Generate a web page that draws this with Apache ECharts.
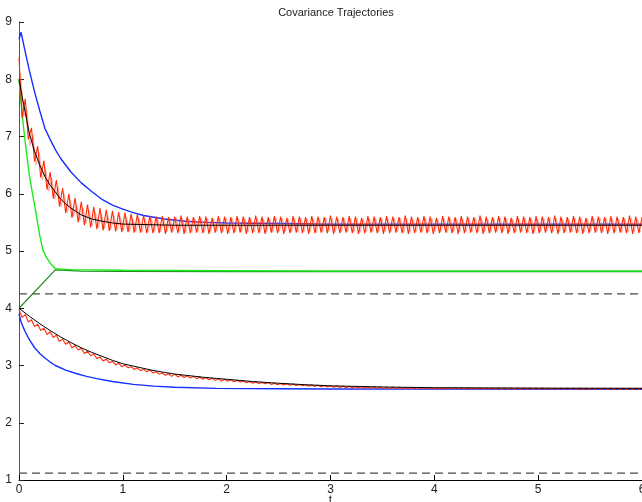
<!DOCTYPE html>
<html>
<head>
<meta charset="utf-8">
<script src="https://cdn.jsdelivr.net/npm/echarts@6/dist/echarts.min.js"></script>
<style>
html,body{margin:0;padding:0;background:#fff;}
#chart{width:642px;height:502px;}
</style>
</head>
<body>
<div id="chart"></div>
<script>
// ---- data ----
const titleText = 'Covariance Trajectories';
const xAxisName = 't';
const xTicks = [0, 1, 2, 3, 4, 5, 6];
const yTicks = [1, 2, 3, 4, 5, 6, 7, 8, 9];
const dashedLevels = [4.25, 1.12];

const blueUpper = [[0,8.7],[0.02,8.82],[0.05,8.56],[0.1,8.15],[0.15,7.78],[0.2,7.45],[0.25,7.14],[0.3,6.95],[0.35,6.77],[0.4,6.62],[0.5,6.38],[0.6,6.19],[0.7,6.04],[0.8,5.9],[0.9,5.8],[1.0,5.73],[1.1,5.67],[1.2,5.62],[1.4,5.56],[1.6,5.52],[1.8,5.5],[2.0,5.49],[2.5,5.48],[3,5.47],[4,5.47],[5,5.47],[6,5.47]];
const blackUpper = [[0,8.0],[0.03,7.7],[0.06,7.42],[0.1,7.05],[0.15,6.74],[0.2,6.5],[0.25,6.3],[0.3,6.15],[0.35,6.03],[0.4,5.91],[0.45,5.82],[0.5,5.75],[0.6,5.63],[0.7,5.56],[0.8,5.52],[0.9,5.49],[1.0,5.47],[1.25,5.46],[1.5,5.45],[2,5.45],[3,5.45],[6,5.45]];
const greenBright = [[0,8.0],[0.02,7.6],[0.04,7.22],[0.06,6.9],[0.08,6.6],[0.1,6.32],[0.13,6.0],[0.16,5.7],[0.2,5.27],[0.23,5.02],[0.26,4.9],[0.3,4.79],[0.35,4.69],[0.5,4.675],[1,4.665],[1.5,4.66],[2,4.655],[3,4.65],[4,4.65],[6,4.65]];
const greenDark = [[0,4.0],[0.35,4.67],[0.6,4.65],[1,4.645],[2,4.64],[6,4.64]];
const blueLower = [[0,3.9],[0.02,3.76],[0.04,3.67],[0.06,3.59],[0.1,3.45],[0.15,3.31],[0.2,3.21],[0.25,3.13],[0.3,3.06],[0.35,3.0],[0.45,2.92],[0.55,2.86],[0.65,2.81],[0.75,2.77],[0.9,2.72],[1.1,2.67],[1.3,2.64],[1.5,2.62],[1.9,2.6],[2.5,2.595],[3,2.59],[4,2.588],[6,2.585]];
const blackLower = [[0,4.0],[0.1,3.86],[0.2,3.73],[0.3,3.61],[0.4,3.5],[0.5,3.4],[0.6,3.31],[0.7,3.23],[0.8,3.16],[0.9,3.09],[1.0,3.03],[1.1,2.99],[1.2,2.95],[1.3,2.91],[1.4,2.88],[1.5,2.85],[1.6,2.83],[1.7,2.81],[1.8,2.79],[1.9,2.775],[2.0,2.76],[2.25,2.72],[2.5,2.69],[2.75,2.665],[3.0,2.645],[3.5,2.625],[4,2.612],[5,2.605],[6,2.602]];

// red traces sampled every sampleStep time units (light trace starts half a step later)
const sampleStep = 0.03;
const redUpper = [
8.38,7.32,7.66,6.95,7.15,6.56,6.83,6.28,6.58,6.07,
6.38,5.92,6.24,5.78,6.10,5.66,6.00,5.58,5.93,5.50,
5.86,5.45,5.81,5.41,5.77,5.38,5.75,5.36,5.72,5.35,
5.70,5.34,5.68,5.33,5.67,5.33,5.65,5.32,5.64,5.32,
5.62,5.31,5.61,5.31,
5.60,5.31,5.61,5.30,5.59,5.32,5.60,5.31,5.62,5.30,
5.60,5.31,5.59,5.32,5.61,5.31,5.60,5.30,5.58,5.32,
5.61,5.31,5.60,5.30,5.59,5.31,5.61,5.32,5.60,5.30,
5.59,5.31,5.62,5.31,5.60,5.30,5.59,5.32,5.61,5.31,
5.60,5.30,5.58,5.31,5.61,5.32,5.60,5.31,5.59,5.30,
5.61,5.31,5.60,5.32,5.59,5.31,5.62,5.30,5.60,5.31,
5.59,5.32,5.61,5.31,5.60,5.30,5.58,5.31,5.61,5.32,
5.60,5.31,5.59,5.30,5.61,5.31,5.60,5.32,5.59,5.31,
5.62,5.30,5.60,5.31,5.59,5.32,5.61,5.31,5.60,5.30,
5.58,5.31,5.61,5.32,5.60,5.31,5.59,5.30,5.61,5.31,
5.60,5.32,5.59,5.31,5.62,5.30,5.60,5.31,5.59,5.32,
5.61,5.31,5.60,5.30,5.58,5.31,5.61,5.32,5.60,5.31,
5.59,5.30,5.61,5.31,5.60,5.32,5.59,5.31,5.62,5.30,
5.60,5.31,5.59,5.32,5.61,5.31,5.60,5.30,5.58,5.31,
5.61,5.32,5.60,5.31,5.59,5.30,5.61,5.31,5.60,5.32,
5.59,5.31,5.62,5.30,5.60,5.31,5.59
];
const redUpperLight = [
8.10,7.35,7.50,6.84,7.03,6.50,6.72,6.24,6.46,6.04,
6.28,5.90,6.13,5.77,6.00,5.67,5.90,5.60,5.82,5.53,
5.76,5.48,5.72,5.44,5.68,5.41,5.65,5.39,5.63,5.37,
5.62,5.36,5.60,5.35,5.59,5.34,5.58,5.34,5.58,5.33,
5.57,5.33,5.58,5.34,5.57,5.33,5.56,5.33,5.57,5.34,
5.58,5.33,5.57,5.32,5.56,5.33,5.57,5.34,5.58,5.33,
5.57,5.33,5.56,5.34,5.57,5.33,5.58,5.32,5.57,5.33,
5.56,5.34,5.57,5.33,5.58,5.33,5.57,5.34,5.56,5.33,
5.57,5.32,5.58,5.33,5.57,5.34,5.56,5.33,5.57,5.33,
5.58,5.34,5.57,5.33,5.56,5.32,5.57,5.33,5.58,5.34,
5.57,5.33,5.56,5.33,5.57,5.34,5.58,5.33,5.57,5.32,
5.56,5.33,5.57,5.34,5.58,5.33,5.57,5.33,5.56,5.34,
5.57,5.33,5.58,5.32,5.57,5.33,5.56,5.34,5.57,5.33,
5.58,5.33,5.57,5.34,5.56,5.33,5.57,5.32,5.58,5.33,
5.57,5.34,5.56,5.33,5.57,5.33,5.58,5.34,5.57,5.33,
5.56,5.32,5.57,5.33,5.58,5.34,5.57,5.33,5.56,5.33,
5.57,5.34,5.58,5.33,5.57,5.32,5.56,5.33,5.57,5.34,
5.58,5.33,5.57,5.33,5.56,5.34,5.57,5.33,5.58,5.32,
5.57,5.33,5.56,5.34,5.57,5.33,5.58,5.33,5.57,5.34,
5.56,5.33,5.57,5.32,5.58,5.33,5.57,5.34,5.56,5.33
];
const redLower = [
3.98,3.84,3.89,3.76,3.80,3.68,3.72,3.61,3.65,3.54,
3.59,3.49,3.53,3.42,3.46,3.37,3.41,3.31,3.35,3.27,
3.30,3.21,3.25,3.17,3.20,3.12,3.15,3.08,3.11,3.05,
3.07,3.01,3.04,2.98,3.01,2.96,2.98,2.93,2.96,2.91,
2.94,2.89,2.92,2.87,2.89,2.85,2.87,2.83,2.86,2.81,
2.85,2.80,2.83,2.79,2.82,2.78,2.81,2.77,2.80,2.76,
2.79,2.75,2.78,2.74,2.77,2.73,2.76,2.725,2.75,2.715,
2.74,2.71,2.73,2.70,2.72,2.69,2.71,2.685,2.705,2.68,
2.70,2.67,2.69,2.665,2.685,2.66,2.68,2.655,2.675,2.65,
2.67,2.645,2.665,2.64,2.66,2.635,2.655,2.63,2.65,2.625,
2.645,2.62,2.64,2.615,2.636,2.612,2.633,2.61,2.63,2.607,
2.628,2.605,2.626,2.603,2.624,2.601,2.622,2.60,2.62,2.598,
2.618,2.597,2.617,2.596,2.616,2.595,2.615,2.594,2.614,2.593,
2.613,2.592,2.612,2.591,2.612,2.591,2.611,2.59,2.61,2.59,
2.61,2.589,2.609,2.589,2.609,2.588,2.608,2.588,2.608,2.588,
2.607,2.587,2.607,2.587,2.607,2.587,2.606,2.586,2.606,2.586,
2.606,2.586,2.605,2.586,2.605,2.585,2.605,2.585,2.605,2.585,
2.604,2.585,2.604,2.584,2.604,2.584,2.604,2.584,2.603,2.584,
2.603,2.583,2.603,2.583,2.603,2.583,2.603,2.583,2.602,2.583,
2.602,2.582,2.602,2.582,2.602,2.582,2.602,2.582,2.601,2.582,
2.601
];

// ---- build ----
const sampled = (arr, t0) => arr.map((v, i) => [Number((t0 + i * sampleStep).toFixed(4)), v]);
const xMin = xTicks[0], xMax = xTicks[xTicks.length - 1];
const yMin = yTicks[0], yMax = yTicks[yTicks.length - 1];

function lineSeries(data, color, width, z, extra) {
  return Object.assign({
    type: 'line', data: data, showSymbol: false, symbol: 'none',
    lineStyle: { color: color, width: width }, z: z, silent: true,
    clip: true
  }, extra || {});
}

const series = [];
dashedLevels.forEach(lv => {
  series.push(lineSeries([[xMin, lv], [xMax, lv]], '#4a4a4a', 1.3, 1, { lineStyle: { color: '#4a4a4a', width: 1.3, type: [8, 5] } }));
});
series.push(lineSeries(greenDark, '#1e8c1e', 1.2, 2));
series.push(lineSeries(greenBright, '#1ee81e', 1.4, 3));
series.push(lineSeries(blueUpper, '#1430ff', 1.4, 4));
series.push(lineSeries(blueLower, '#1430ff', 1.4, 4));
series.push(lineSeries(sampled(redUpperLight, sampleStep / 2), '#ff6a50', 1.1, 5, { lineStyle: { color: '#ff6a50', width: 1.1, opacity: 0.55 } }));
series.push(lineSeries(sampled(redUpper, 0), '#ff2a0a', 1.1, 5));
series.push(lineSeries(sampled(redLower, 0), '#ff2a0a', 1.1, 5));
series.push(lineSeries(blackUpper, '#000', 1, 6));
series.push(lineSeries(blackLower, '#000', 1, 6));

const chart = echarts.init(document.getElementById('chart'), null, { renderer: 'canvas' });
chart.setOption({
  animation: false,
  backgroundColor: '#fff',
  title: {
    text: titleText, left: 331, top: 2, textAlign: 'center',
    textStyle: { fontSize: 11, fontWeight: 'normal', color: '#222', fontFamily: 'Liberation Sans' }
  },
  grid: { left: 19, right: 0, top: 22, bottom: 22, containLabel: false, outerBoundsMode: 'none' },
  xAxis: {
    type: 'value', min: xMin, max: xMax, interval: 1,
    name: xAxisName, nameLocation: 'middle', nameGap: 15, nameMoveOverlap: false,
    nameTextStyle: { fontSize: 12, color: '#222', fontFamily: 'Liberation Sans', verticalAlign: 'top' },
    axisLine: { onZero: false, lineStyle: { color: '#000', width: 1 } },
    axisTick: { inside: true, length: 5, lineStyle: { color: '#000' } },
    axisLabel: { color: '#222', fontSize: 12, margin: 4, fontFamily: 'Liberation Sans', showMaxLabel: true, hideOverlap: false },
    splitLine: { show: false }
  },
  yAxis: {
    type: 'value', min: yMin, max: yMax, interval: 1,
    axisLine: { onZero: false, lineStyle: { color: '#555', width: 1 } },
    axisTick: { inside: true, length: 5, lineStyle: { color: '#222' } },
    axisLabel: { color: '#222', fontSize: 12, margin: 7, fontFamily: 'Liberation Sans' },
    splitLine: { show: false }
  },
  series: series
});
</script>
</body>
</html>
